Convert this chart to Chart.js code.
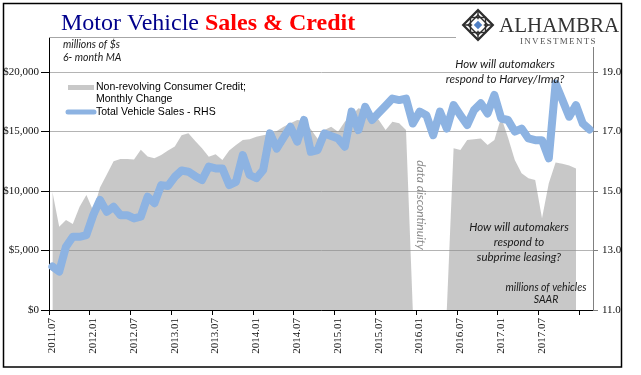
<!DOCTYPE html>
<html>
<head>
<meta charset="utf-8">
<script src="https://cdn.jsdelivr.net/npm/chart.js@4"></script>
<style>
  html, body { margin: 0; padding: 0; background: #fff; }
</style>
</head>
<body>
<canvas id="chart" width="641" height="375"></canvas>
<script>
// months on the x axis (one per data point)
var months = [
  '2011.07','2011.08','2011.09','2011.10','2011.11','2011.12',
  '2012.01','2012.02','2012.03','2012.04','2012.05','2012.06','2012.07','2012.08','2012.09','2012.10','2012.11','2012.12',
  '2013.01','2013.02','2013.03','2013.04','2013.05','2013.06','2013.07','2013.08','2013.09','2013.10','2013.11','2013.12',
  '2014.01','2014.02','2014.03','2014.04','2014.05','2014.06','2014.07','2014.08','2014.09','2014.10','2014.11','2014.12',
  '2015.01','2015.02','2015.03','2015.04','2015.05','2015.06','2015.07','2015.08','2015.09','2015.10','2015.11','2015.12',
  '2016.01','2016.02','2016.03','2016.04','2016.05','2016.06','2016.07','2016.08','2016.09','2016.10','2016.11','2016.12',
  '2017.01','2017.02','2017.03','2017.04','2017.05','2017.06','2017.07','2017.08','2017.09','2017.10','2017.11','2017.12',
  '2018.01','2018.02'
];

// non-revolving consumer credit, monthly change, 6-month MA ($ millions)
var credit = [
  9950, 7000, 7560, 7230, 8680, 9660, 8340, 10300, 11400, 12500,
  12700, 12700, 12660, 13480, 12900, 12750, 13025, 13400, 13750, 14700,
  14850, 14200, 13600, 12890, 13100, 12600, 13400, 13870, 14290, 14350,
  14565, 14700, 14800, 15050, 15400, 15700, 15970, 15900, 15200, 14400,
  15125, 15405, 14985, 15825, 16300, 16950, 16800, 16525, 15970, 15125,
  15825, 15690, 15125, 0, 0, 0, 0, 0, 0, 13590,
  13445, 14285, 14350, 14425, 13865, 14285, 16200, 14500, 12600, 11500,
  11070, 10925, 7710, 10650, 12400, 12300, 12150, 11900
];

// total vehicle sales, SAAR (millions) - right axis
var sales = [
  12.46, 12.29, 13.13, 13.46, 13.46, 13.52, 14.19, 14.70, 14.30, 14.47,
  14.19, 14.19, 14.08, 14.14, 14.81, 14.59, 15.20, 15.17, 15.48, 15.69,
  15.65, 15.50, 15.37, 15.82, 15.76, 15.76, 15.20, 15.31, 16.21, 15.54,
  15.43, 15.71, 16.94, 16.43, 16.80, 17.16, 16.66, 17.39, 16.32, 16.38,
  16.94, 16.85, 16.77, 16.49, 17.67, 17.05, 17.83, 17.39, 17.63, 17.87,
  18.11, 18.06, 18.11, 17.27, 17.67, 17.55, 16.88, 17.67, 17.10, 17.89,
  17.55, 17.22, 17.72, 17.95, 17.61, 18.23, 17.44, 17.39, 17.00, 17.10,
  16.77, 16.71, 16.71, 16.10, 18.62, 18.06, 17.50, 17.89, 17.27, 17.07
];

var leftTicks = [0, 5000, 10000, 15000, 20000];
var rightTicks = [11, 13, 15, 17, 19];

var serif = '"Liberation Serif", "Times New Roman", serif';
var sans = '"Liberation Sans", Arial, sans-serif';
var note = 'Lato, "Open Sans", sans-serif';

function drawLogo(ctx, cx, cy) {
  ctx.save();
  ctx.translate(cx, cy);
  ctx.strokeStyle = '#2e2e2e';
  ctx.rotate(Math.PI / 4);
  var s = 10.5;
  ctx.lineWidth = 2.2;
  ctx.strokeRect(-s, -s, 2 * s, 2 * s);
  ctx.lineWidth = 1.4;
  ctx.strokeRect(-s + 3.5, -s + 3.5, 2 * s - 7, 2 * s - 7);
  ctx.rotate(-Math.PI / 4);
  ctx.strokeRect(-7.5, -7.5, 15, 15);
  ctx.beginPath();
  ctx.moveTo(-s * 1.41, 0); ctx.lineTo(s * 1.41, 0);
  ctx.moveTo(0, -s * 1.41); ctx.lineTo(0, s * 1.41);
  ctx.stroke();
  ctx.fillStyle = '#fff';
  ctx.rotate(Math.PI / 4);
  ctx.fillRect(-4.5, -4.5, 9, 9);
  ctx.fillStyle = '#4f7fc4';
  ctx.fillRect(-3, -3, 6, 6);
  ctx.restore();
}

var extras = {
  id: 'extras',
  afterDraw: function (chart) {
    var ctx = chart.ctx;
    var area = chart.chartArea;
    ctx.save();

    // plot area top line
    ctx.strokeStyle = '#a6a6a6';
    ctx.lineWidth = 1;
    ctx.beginPath();
    ctx.moveTo(area.left, area.top + 0.5);
    ctx.lineTo(456, area.top + 0.5);
    ctx.stroke();

    // logo
    ctx.fillStyle = '#fff';
    ctx.fillRect(457, 4, 164, 43);
    drawLogo(ctx, 478, 25);
    ctx.fillStyle = '#333';
    ctx.textBaseline = 'alphabetic';
    ctx.textAlign = 'left';
    ctx.font = '21px ' + serif;
    ctx.fillText('ALHAMBRA', 499, 32);
    ctx.font = '9px ' + serif;
    ctx.fillStyle = '#555';
    ctx.letterSpacing = '1.3px';
    ctx.fillText('INVESTMENTS', 520, 44);
    ctx.letterSpacing = '0px';

    // title
    ctx.font = '24px ' + serif;
    ctx.fillStyle = '#00008b';
    var part1 = 'Motor Vehicle ';
    ctx.fillText(part1, 61, 30);
    var w1 = ctx.measureText(part1).width;
    ctx.font = 'bold 24px ' + serif;
    ctx.fillStyle = '#ff0000';
    ctx.fillText('Sales & Credit', 61 + w1, 30);

    // unit notes
    ctx.fillStyle = '#1a1a1a';
    ctx.font = 'italic 10.5px ' + note;
    ctx.textBaseline = 'middle';
    ctx.fillText('millions of $s', 63, 45);
    ctx.fillText('6- month MA', 63, 58);

    // legend
    ctx.lineCap = 'butt';
    ctx.strokeStyle = '#c8c8c8';
    ctx.lineWidth = 5;
    ctx.beginPath(); ctx.moveTo(68, 87.5); ctx.lineTo(94, 87.5); ctx.stroke();
    ctx.strokeStyle = '#8db3e2';
    ctx.lineWidth = 5;
    ctx.lineCap = 'round';
    ctx.beginPath(); ctx.moveTo(68, 112); ctx.lineTo(94, 112); ctx.stroke();
    ctx.fillStyle = '#000';
    ctx.font = '10.5px ' + sans;
    ctx.fillText('Non-revolving Consumer Credit;', 96, 87.5);
    ctx.fillText('Monthly Change', 96, 99.5);
    ctx.fillText('Total Vehicle Sales - RHS', 96, 112);

    // annotations
    ctx.textAlign = 'center';
    ctx.fillStyle = '#1a1a1a';
    ctx.font = 'italic 11.5px ' + note;
    ctx.fillText('How will automakers', 505, 64);
    ctx.fillText('respond to Harvey/Irma?', 505, 79);
    ctx.fillText('How will automakers', 519, 227);
    ctx.fillText('respond to', 519, 242);
    ctx.fillText('subprime leasing?', 519, 257);
    ctx.font = 'italic 10.5px ' + note;
    ctx.fillText('millions of vehicles', 546, 288);
    ctx.fillText('SAAR', 546, 300);

    // discontinuity label
    ctx.save();
    ctx.translate(421, 205);
    ctx.rotate(Math.PI / 2);
    ctx.fillStyle = '#8c8c8c';
    ctx.font = 'italic 12px ' + note;
    ctx.fillText('data discontinuity', 0, 0);
    ctx.restore();

    // outer frame
    ctx.strokeStyle = '#000';
    ctx.lineWidth = 1.5;
    ctx.strokeRect(3.5, 3.5, 618, 363.5);
    ctx.restore();
  }
};

var data = {
  labels: months,
  datasets: [
    {
      label: 'Total Vehicle Sales - RHS',
      data: sales,
      yAxisID: 'y1',
      borderColor: '#8db3e2',
      borderWidth: 8,
      borderJoinStyle: 'round',
      borderCapStyle: 'round',
      pointRadius: 0,
      tension: 0,
      fill: false,
      order: 0
    },
    {
      label: 'Non-revolving Consumer Credit; Monthly Change',
      data: credit,
      yAxisID: 'y',
      borderWidth: 0,
      backgroundColor: 'rgba(140,140,140,0.48)',
      pointRadius: 0,
      tension: 0,
      fill: 'origin',
      order: 1
    }
  ]
};

var options = {
  responsive: false,
  animation: false,
  layout: { padding: { top: 37, left: 0, right: 0, bottom: 0 } },
  plugins: {
    legend: { display: false },
    title: { display: false },
    tooltip: { enabled: false }
  },
  scales: {
    x: {
      type: 'category',
      offset: true,
      afterFit: function (s) { s.height = 65; },
      border: { color: '#000', width: 1 },
      grid: {
        offset: true,
        drawOnChartArea: false,
        tickLength: 5,
        tickColor: function (c) { return c.index % 6 === 0 ? '#000' : 'rgba(0,0,0,0)'; }
      },
      ticks: {
        autoSkip: false,
        minRotation: 90,
        maxRotation: 90,
        padding: 3,
        color: '#111',
        font: { family: serif, size: 11 },
        callback: function (v, i) {
          if (i % 6 !== 0 || i === 78) return '';
          return months[i];
        }
      }
    },
    y: {
      position: 'left',
      min: 0,
      max: 22950,
      afterFit: function (s) { s.width = 49; },
      afterBuildTicks: function (s) { s.ticks = leftTicks.map(function (v) { return { value: v }; }); },
      border: { color: '#000', width: 1 },
      grid: {
        color: '#b4b4b4',
        borderDash: [3, 2],
        tickColor: '#000',
        tickBorderDash: [],
        tickLength: 8
      },
      ticks: {
        padding: 2,
        color: '#111',
        font: { family: serif, size: 11 },
        callback: function (v) { return '$' + v.toLocaleString('en-US'); }
      }
    },
    y1: {
      position: 'right',
      min: 11,
      max: 20.18,
      afterFit: function (s) { s.width = 48; },
      afterBuildTicks: function (s) { s.ticks = rightTicks.map(function (v) { return { value: v }; }); },
      border: { color: '#808080', width: 1 },
      grid: {
        drawOnChartArea: false,
        tickColor: '#808080',
        tickLength: 5
      },
      ticks: {
        padding: 4,
        color: '#111',
        font: { family: serif, size: 11 },
        callback: function (v) { return v.toFixed(1); }
      }
    }
  }
};

var ctx = document.getElementById('chart');
var myChart = new Chart(ctx, {
  type: 'line',
  data: data,
  options: options,
  plugins: [extras]
});
</script>
</body>
</html>
